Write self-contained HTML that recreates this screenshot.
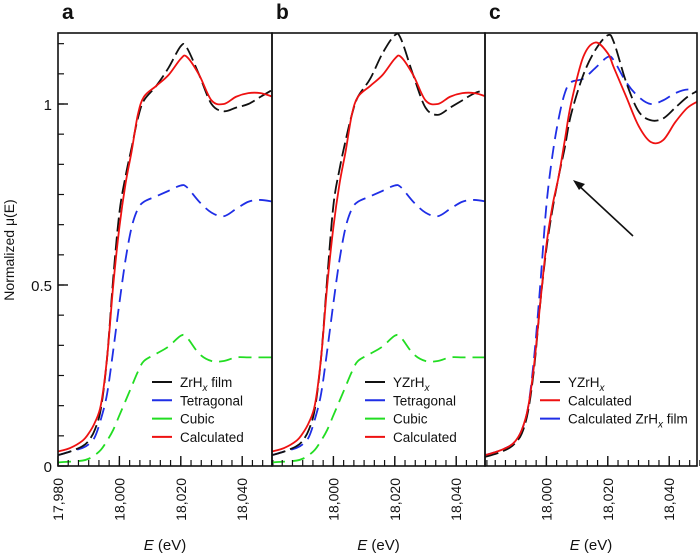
<!DOCTYPE html>
<html><head><meta charset="utf-8"><style>
body{margin:0;background:#fff}
svg{display:block;font-family:"Liberation Sans",sans-serif}
</style></head><body>
<svg id="chart" width="700" height="555" xmlns="http://www.w3.org/2000/svg"></svg>
<script>
const energies=[17980,17984,17988,17990,17992,17994,17996,17998,18000,18002,18004,18006,18008,18012,18016,18020,18022,18026,18030,18034,18038,18042,18046,18050];
const aFilm=[0.03,0.04,0.055,0.07,0.1,0.16,0.3,0.52,0.7,0.8,0.88,0.96,1.01,1.05,1.1,1.16,1.155,1.08,1.0,0.98,0.99,1.0,1.02,1.04];
const aCalc=[0.04,0.05,0.07,0.09,0.12,0.17,0.3,0.5,0.66,0.78,0.87,0.97,1.02,1.05,1.08,1.125,1.13,1.08,1.01,1.0,1.02,1.03,1.03,1.02];
const tetra=[0.03,0.04,0.05,0.06,0.08,0.13,0.2,0.32,0.45,0.57,0.66,0.71,0.73,0.745,0.76,0.775,0.77,0.73,0.7,0.69,0.71,0.73,0.735,0.73];
const cubic=[0.01,0.012,0.015,0.02,0.03,0.045,0.07,0.1,0.14,0.18,0.22,0.26,0.29,0.31,0.33,0.36,0.355,0.31,0.29,0.29,0.3,0.3,0.3,0.3];
const bYZr=[0.03,0.04,0.055,0.07,0.1,0.16,0.3,0.52,0.72,0.82,0.9,0.97,1.02,1.07,1.14,1.19,1.18,1.08,0.99,0.97,0.99,1.01,1.03,1.04];
const cYZr=[0.025,0.035,0.05,0.065,0.09,0.15,0.27,0.45,0.6,0.71,0.8,0.88,0.97,1.08,1.15,1.19,1.17,1.06,0.98,0.955,0.96,0.99,1.02,1.04];
const cCalc=[0.03,0.04,0.055,0.07,0.1,0.16,0.28,0.45,0.61,0.72,0.8,0.9,1.0,1.13,1.17,1.14,1.1,1.02,0.94,0.895,0.9,0.95,0.99,1.01];
const cCalcFilm=[0.03,0.04,0.055,0.07,0.1,0.16,0.3,0.5,0.72,0.86,0.96,1.03,1.06,1.07,1.1,1.13,1.12,1.06,1.02,1.0,1.01,1.03,1.04,1.03];
const xTicks=[17980,18000,18020,18040];
const xTickLabels=["17,980","18,000","18,020","18,040"];
const yTicks=[0,0.5,1];
const yTickLabels=["0","0.5","1"];

const NS="http://www.w3.org/2000/svg";
const svg=document.getElementById('chart');
function el(t,a,p){const e=document.createElementNS(NS,t);for(const k in a)e.setAttribute(k,a[k]);(p||svg).appendChild(e);return e;}
const plotTop=33,plotBottom=466,yScale=362;
function Y(v){return plotBottom-v*yScale;}
const panels=[{x0:58,x1:272,l:'a'},{x0:272,x1:485,l:'b'},{x0:485,x1:697,l:'c'}];
function X(p,e){return p.x0+(e-17980)*3.07;}
const colors={k:'#111',b:'#1f2ee6',g:'#22dd22',r:'#ee1111'};
const dashes={k:'14,5',b:'13,7',g:'13,7',r:null};

function series(p,vals,c,name){
  const d=energies.map((e,i)=>[X(p,e),Y(vals[i])]);
  let s='M'+d[0][0]+','+d[0][1];
  for(let i=0;i<d.length-1;i++){
    const p0=d[Math.max(0,i-1)],p1=d[i],p2=d[i+1],p3=d[Math.min(d.length-1,i+2)];
    s+=' C'+(p1[0]+(p2[0]-p0[0])/6)+','+(p1[1]+(p2[1]-p0[1])/6)+' '+(p2[0]-(p3[0]-p1[0])/6)+','+(p2[1]-(p3[1]-p1[1])/6)+' '+p2[0]+','+p2[1];
  }
  const a={d:s,fill:'none',stroke:colors[c],'stroke-width':1.8};
  if(dashes[c])a['stroke-dasharray']=dashes[c];
  const path=el('path',a,p.g);
  
  
}

panels.forEach((p,pi)=>{
  const cp=el('clipPath',{id:'cp'+pi});
  el('rect',{x:p.x0,y:plotTop,width:p.x1-p.x0,height:plotBottom-plotTop},cp);
  p.g=el('g',{'clip-path':'url(#cp'+pi+')'});
  
  
  for(let e=17980;e<=18050;e+=10/3){
    const x=X(p,e);
    const t=el('line',{x1:x,x2:x,y1:plotBottom,y2:plotBottom-6,stroke:'#111','stroke-width':1.2});
    
    
  }
  xTicks.forEach((e,i)=>{
    if(pi>0&&i==0)return;
    const x=X(p,e);
    el('line',{x1:x,x2:x,y1:plotBottom,y2:plotBottom-10,stroke:'#111','stroke-width':1.4});
    const t=el('text',{x:0,y:0,transform:'translate('+(x+5)+',478) rotate(-90)','text-anchor':'end','font-size':14,fill:'#111'});
    t.textContent=xTickLabels[i];
    
    
  });
  const xl=el('text',{x:(p.x0+p.x1)/2,y:550,'text-anchor':'middle','font-size':15,fill:'#111'});
  xl.innerHTML='<tspan font-style="italic">E</tspan> (eV)';
  
  
  const lt=el('text',{x:p.x0+4,y:19,'font-size':21,'font-weight':'bold',fill:'#111'});
  lt.textContent=p.l;
  
  
});
for(let i=0;i<=14;i++){
  const y=plotBottom-i*yScale/12; if(y<plotTop)break;
  el('line',{x1:58,x2:64,y1:y,y2:y,stroke:'#111','stroke-width':1.2});
}
yTicks.forEach((v,i)=>{
  el('line',{x1:58,x2:68,y1:Y(v),y2:Y(v),stroke:'#111','stroke-width':1.4});
  const t=el('text',{x:52,y:Y(v)+6,'text-anchor':'end','font-size':15,fill:'#111'});
  t.textContent=yTickLabels[i];
  
  
});
const yt=el('text',{x:0,y:0,transform:'translate(14,250) rotate(-90)','text-anchor':'middle','font-size':14,fill:'#111'});
yt.textContent='Normalized μ(E)';



const [A,B,C]=panels;
series(A,cubic,'g','cubic-a');series(A,tetra,'b','tetragonal-a');series(A,aFilm,'k','zrhx-film-a');series(A,aCalc,'r','calculated-a');
series(B,cubic,'g','cubic-b');series(B,tetra,'b','tetragonal-b');series(B,bYZr,'k','yzrhx-b');series(B,aCalc,'r','calculated-b');
series(C,cCalcFilm,'b','calculated-zrhx-film-c');series(C,cYZr,'k','yzrhx-c');series(C,cCalc,'r','calculated-c');

panels.forEach(p=>{const r=el('rect',{x:p.x0,y:plotTop,width:p.x1-p.x0,height:plotBottom-plotTop,fill:'none',stroke:'#111','stroke-width':1.6});
 });

el('line',{x1:633,y1:236,x2:576,y2:183,stroke:'#111','stroke-width':1.6});
const ah=el('path',{d:'M573,180 L585,184 L579,190 Z',fill:'#111'});


function legend(x,y,items){
  items.forEach((it,i)=>{
    const yy=y+i*18.3;
    const g=el('g',{});
    
    
    el('line',{x1:x,x2:x+20,y1:yy,y2:yy,stroke:colors[it[0]],'stroke-width':2},g);
    const t=el('text',{x:x+28,y:yy+5,'font-size':13.5,fill:'#111'},g);
    t.innerHTML=it[1];
  });
}
const zr='ZrH<tspan font-size="10" dy="4" font-style="italic">x</tspan>';
legend(152,382,[['k',zr+'<tspan dy="-4"> film</tspan>'],['b','Tetragonal'],['g','Cubic'],['r','Calculated']]);
legend(365,382,[['k','Y'+zr],['b','Tetragonal'],['g','Cubic'],['r','Calculated']]);
legend(540,382,[['k','Y'+zr],['r','Calculated'],['b','Calculated '+zr+'<tspan dy="-4"> film</tspan>']]);
</script>
</body></html>
